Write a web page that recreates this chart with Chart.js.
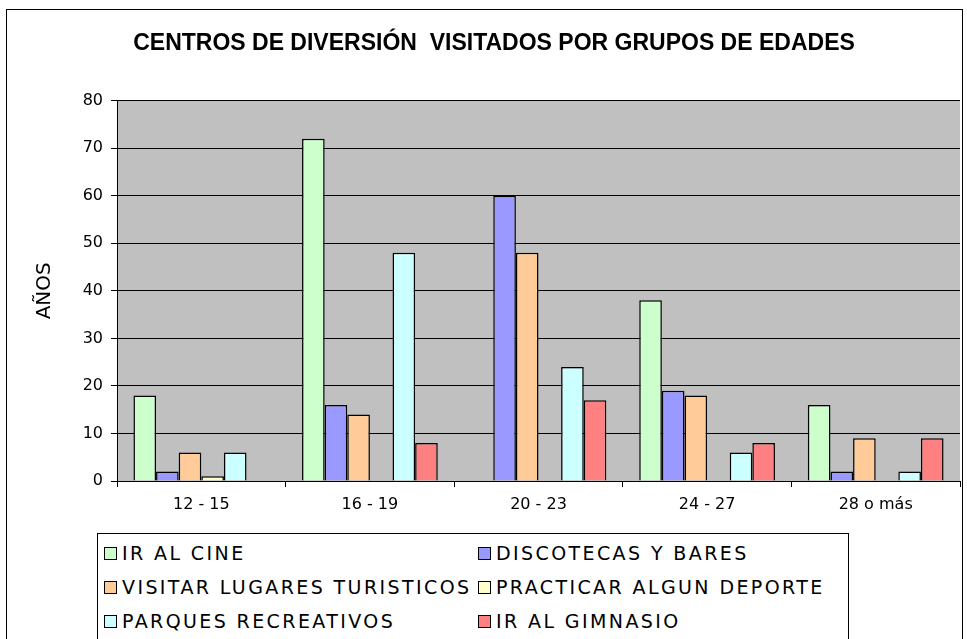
<!DOCTYPE html>
<html>
<head>
<meta charset="utf-8">
<script src="https://cdn.jsdelivr.net/npm/chart.js@4/dist/chart.umd.min.js"></script>
<style>
body{margin:0;background:#fff;width:967px;height:639px;overflow:hidden;position:relative;font-family:"DejaVu Sans",sans-serif}
#frame{position:absolute;left:6px;top:9px;width:955px;height:700px;border:1px solid #000}
#wrap{position:absolute;left:0;top:0;width:967px;height:530px}
#legend{position:absolute;left:97px;top:533px;width:750px;height:120px;border:1px solid #000;background:#fff}
.item{position:absolute;font-size:19px;letter-spacing:2.4px;color:#000;white-space:nowrap;line-height:20px}
.sw{display:inline-block;width:11px;height:11px;border:1px solid #000;margin-right:5px;vertical-align:0px}
</style>
</head>
<body>
<div id="frame"></div>
<div id="wrap"><canvas id="chart"></canvas></div>
<div id="legend"></div>
<script>
const groups = ["12 - 15","16 - 19","20 - 23","24 - 27","28 o más"]

const irAlCine = [18,72,0,38,16]
const discotecas = [2,16,60,19,2]
const visitarLugares = [6,14,48,18,9]
const practicarDeporte = [1,0,0,0,0]
const parques = [6,48,24,6,2]
const gimnasio = [0,8,17,8,9]

const yTicks = [0,10,20,30,40,50,60,70,80]

const series = [
{label:"IR AL CINE",data:irAlCine,color:"#CCFFCC"},
{label:"DISCOTECAS Y BARES",data:discotecas,color:"#9999FF"},
{label:"VISITAR LUGARES TURISTICOS",data:visitarLugares,color:"#FFCC99"},
{label:"PRACTICAR ALGUN DEPORTE",data:practicarDeporte,color:"#FFFFCC"},
{label:"PARQUES RECREATIVOS",data:parques,color:"#CCFFFF"},
{label:"IR AL GIMNASIO",data:gimnasio,color:"#FF8080"}
]

// gray plot background
const plotBg = {
id:"plotBg",
beforeDraw(chart){
const a = chart.chartArea
const ctx = chart.ctx
ctx.save()
ctx.fillStyle = "#C0C0C0"
ctx.fillRect(a.left,a.top,a.right-a.left,a.bottom-a.top)
ctx.restore()
}
}

new Chart(document.getElementById("chart"),{
type:"bar",
data:{
labels:groups,
datasets:series.map(s=>({
label:s.label,
data:s.data,
backgroundColor:s.color,
borderColor:"#000",
borderWidth:1.5,
barPercentage:1,
categoryPercentage:0.805
}))
},
options:{
responsive:true,
maintainAspectRatio:false,
animation:false,
layout:{padding:{top:30,right:7,left:28,bottom:0}},
plugins:{
legend:{display:false},
tooltip:{enabled:false},
title:{
display:true,
text:"CENTROS DE DIVERSIÓN  VISITADOS POR GRUPOS DE EDADES",
color:"#000",
font:{family:"Liberation Sans",size:23,weight:"bold",lineHeight:1.2},
padding:{top:0,bottom:43}
}
},
scales:{
x:{
grid:{display:true,offset:true,drawOnChartArea:false,color:"#000",tickLength:6},
border:{color:"#000",width:1},
ticks:{color:"#000",font:{family:"DejaVu Sans",size:16},padding:8},
afterFit(s){s.height=49}
},
y:{
min:0,
max:80,
afterBuildTicks(s){s.ticks=yTicks.map(v=>({value:v}))},
grid:{color:"#000",lineWidth:1,tickLength:6},
border:{color:"#000",width:1},
ticks:{color:"#000",font:{family:"DejaVu Sans",size:16},padding:8},
title:{display:true,text:"AÑOS",color:"#000",font:{family:"DejaVu Sans",size:20},padding:{top:5,bottom:0}},
afterFit(s){s.width=89}
}
}
},
plugins:[plotBg]
})

// legend, two columns
const legend = document.getElementById("legend")
series.forEach((s,i)=>{
const d = document.createElement("div")
d.className = "item"
d.style.left = (i%2==0 ? 6 : 380)+"px"
d.style.top = (9+Math.floor(i/2)*34)+"px"
d.innerHTML = `<span class="sw" style="background:${s.color}"></span>${s.label}`
legend.appendChild(d)
})
</script>
</body>
</html>
